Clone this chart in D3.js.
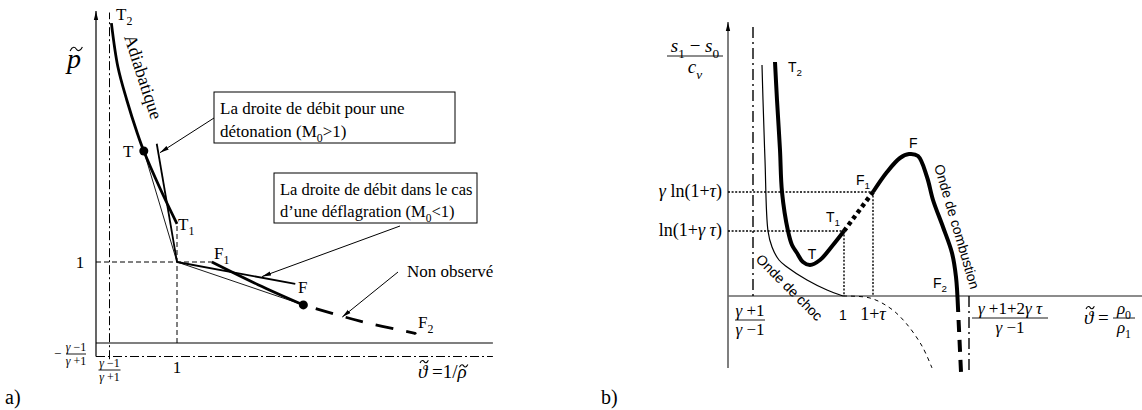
<!DOCTYPE html>
<html lang="fr">
<head>
<meta charset="UTF-8">
<title>Adiabatique</title>
<style>
  body { margin: 0; background: #fff; }
  svg { display: block; }
  .serif { font-family: "Liberation Serif", "Times New Roman", serif; }
  .sans { font-family: "Liberation Sans", Arial, sans-serif; }
</style>
</head>
<body>
<script src="https://cdn.jsdelivr.net/npm/d3@7/dist/d3.min.js"></script>
<script>
    // ---------- a) plan (v~, p~), gamma = 1.4 ----------
    var gFrac = 1 / 6;                       // (gamma-1)/(gamma+1)
    var initState = [1, 1];
    var adiabatDetonation = [[0.19, 3.95], [0.27, 3.41], [0.38, 3.0], [0.51, 2.59], [0.59, 2.37], [0.79, 1.91], [1.0, 1.47]];
    var adiabatDeflagration = [[1.43, 1.0], [2.0, 0.72], [2.56, 0.47]];
    var adiabatNonObserve = [[2.56, 0.47], [3.26, 0.27], [3.94, 0.12]];
    var pointT = [0.59, 2.37];
    var pointF = [2.56, 0.47];
    var rayleighDetonationEnd = [0.75, 2.46];
    var rayleighDeflagrationEnd = [2.46, 0.73];

    // ---------- b) plan (v~, (s1-s0)/cv) ----------
    var asymShock = 6.25, asymComb = 60.25;          // (g+1)/(g-1) , (g+1+2g tau)/(g-1)
    var vOne = 29, vOneTau = 36.25;                   // 1 , 1+tau
    var sLn1gt = 16.25, sGln1t = 26;                  // ln(1+g tau) , g ln(1+tau)
    var shockCurve = [[8.5, 57.75], [8.75, 49], [9.25, 34], [10, 16.25], [11, 12.25], [12.75, 9], [14.75, 7.25], [19.75, 4], [24.75, 1.5], [28.75, 0]];
    var shockCurveNeg = [[28.75, 0], [35.5, -0.5], [40.5, -3], [44.25, -6.5], [48.5, -12.5], [51, -18]];
    var combT = [[11.75, 58.5], [12.25, 49], [13, 36.5], [13.5, 26], [15, 16.25], [16, 12.75], [17.25, 10.75], [18.75, 8.5], [20.5, 7.75], [23, 9], [26.25, 12.75], [29, 16.25]];
    var combGap = [[29, 16.25], [36.25, 26]];
    var combF = [[36.25, 26], [39.75, 31], [43, 34.5], [45.25, 35.5], [47.5, 35], [49.75, 29.75], [51.25, 24], [53.75, 17.25], [56, 10.75], [57, 4.75], [57.5, -3]];
    var combF2 = [[57.5, -3], [58.25, -19]];

    var svg = d3.select('body').append('svg')
        .attr('width', 1142)
        .attr('height', 410);

    var defs = svg.append('defs');
    defs.append('marker')
        .attr('id', 'arrow')
        .attr('viewBox', '0 0 10 6')
        .attr('refX', 10).attr('refY', 3)
        .attr('markerWidth', 9).attr('markerHeight', 5.4)
        .attr('markerUnits', 'userSpaceOnUse')
        .attr('orient', 'auto')
      .append('path')
        .attr('d', 'M0,0.6 L10,3 L0,5.4 Z');

    // text with italic / subscript pieces
    function rich(g, x, y, parts, size, cls, anchor) {
        var t = g.append('text')
            .attr('x', x).attr('y', y)
            .attr('class', cls)
            .attr('font-size', size)
            .attr('text-anchor', anchor || 'start');
        var wasSub = false;
        parts.forEach(function(p) {
            if (typeof p === 'string') p = {t: p};
            var s = t.append('tspan').text(p.t);
            if (p.i) s.attr('font-style', 'italic');
            if (p.sub) {
                s.attr('font-size', size * 0.7);
                if (!wasSub) s.attr('dy', size * 0.3);
            } else if (wasSub) {
                s.attr('dy', -size * 0.3);
            }
            wasSub = !!p.sub;
        });
        return t;
    }

    // small tilde stroke over one character of a text
    function tilde(g, t, idx, size, lift) {
        var b = t.node().getExtentOfChar(idx);
        var base = +t.attr('y');
        var cx = b.x + b.width / 2 + size * 0.08,
            cy = base - lift * size,
            w = size * 0.22, h = size * 0.07;
        g.append('path')
            .attr('d', 'M' + (cx - w) + ',' + (cy + h) +
                ' C' + (cx - w * 0.6) + ',' + (cy - h * 1.6) + ' ' + (cx - w * 0.2) + ',' + (cy - h) + ' ' + cx + ',' + cy +
                ' S' + (cx + w * 0.6) + ',' + (cy + h * 1.6) + ' ' + (cx + w) + ',' + (cy - h))
            .attr('fill', 'none').attr('stroke', '#000').attr('stroke-width', 1.1);
    }

    function frac(g, cx, yBar, num, den, size, half, cls) {
        rich(g, cx, yBar - size * 0.22, num, size, cls, 'middle');
        g.append('line')
            .attr('x1', cx - half).attr('x2', cx + half)
            .attr('y1', yBar).attr('y2', yBar)
            .attr('stroke', '#000').attr('stroke-width', 0.9);
        rich(g, cx, yBar + size * 0.9, den, size, cls, 'middle');
    }

    // =================== panel a) ===================
    var xa = d3.scaleLinear().domain([0, 1]).range([96, 177]);
    var ya = d3.scaleLinear().domain([0, 1]).range([343, 262]);
    var lineA = d3.line()
        .x(function(d) { return xa(d[0]); })
        .y(function(d) { return ya(d[1]); });
    var curveA = d3.line()
        .x(function(d) { return xa(d[0]); })
        .y(function(d) { return ya(d[1]); })
        .curve(d3.curveCatmullRom);

    var ga = svg.append('g');

    // axes
    ga.append('line')
        .attr('x1', xa(0)).attr('x2', xa(0))
        .attr('y1', ya(-gFrac)).attr('y2', ya(4.1))
        .attr('stroke', '#000').attr('stroke-width', 1.2)
        .attr('marker-end', 'url(#arrow)');
    ga.append('line')
        .attr('x1', xa(0)).attr('x2', xa(4.9))
        .attr('y1', ya(0)).attr('y2', ya(0))
        .attr('stroke', '#000').attr('stroke-width', 1.2);

    // asymptotes (dash-dot)
    ga.append('line')
        .attr('x1', xa(gFrac)).attr('x2', xa(gFrac))
        .attr('y1', ya(-0.2)).attr('y2', ya(4.08))
        .attr('stroke', '#000').attr('stroke-width', 1)
        .attr('stroke-dasharray', '9,3,2,3');
    ga.append('line')
        .attr('x1', xa(0)).attr('x2', xa(4.9))
        .attr('y1', ya(-gFrac)).attr('y2', ya(-gFrac))
        .attr('stroke', '#000').attr('stroke-width', 1)
        .attr('stroke-dasharray', '9,3,2,3');

    // guides through initial state
    ga.append('path')
        .attr('d', lineA([[0, initState[1]], [adiabatDeflagration[0][0], initState[1]]]))
        .attr('fill', 'none').attr('stroke', '#000').attr('stroke-width', 1)
        .attr('stroke-dasharray', '5,3');
    ga.append('path')
        .attr('d', lineA([[initState[0], 0], [initState[0], adiabatDetonation[adiabatDetonation.length - 1][1]]]))
        .attr('fill', 'none').attr('stroke', '#000').attr('stroke-width', 1)
        .attr('stroke-dasharray', '5,3');

    // Rayleigh lines
    ga.append('path').attr('d', lineA([initState, pointT]))
        .attr('fill', 'none').attr('stroke', '#000').attr('stroke-width', 0.9);
    ga.append('path').attr('d', lineA([initState, pointF]))
        .attr('fill', 'none').attr('stroke', '#000').attr('stroke-width', 0.9);
    ga.append('path').attr('d', lineA([initState, rayleighDetonationEnd]))
        .attr('fill', 'none').attr('stroke', '#000').attr('stroke-width', 1.8);
    ga.append('path').attr('d', lineA([initState, rayleighDeflagrationEnd]))
        .attr('fill', 'none').attr('stroke', '#000').attr('stroke-width', 1.8);

    // adiabat
    ga.append('path').attr('d', curveA(adiabatDetonation))
        .attr('fill', 'none').attr('stroke', '#000').attr('stroke-width', 2.8);
    ga.append('path').attr('d', curveA(adiabatDeflagration))
        .attr('fill', 'none').attr('stroke', '#000').attr('stroke-width', 2.8);
    ga.append('path').attr('d', curveA(adiabatNonObserve))
        .attr('fill', 'none').attr('stroke', '#000').attr('stroke-width', 2.8)
        .attr('stroke-dasharray', '18,13').attr('stroke-dashoffset', 18);
    ga.append('circle')
        .attr('cx', xa(adiabatNonObserve[2][0])).attr('cy', ya(adiabatNonObserve[2][1])).attr('r', 1.4);

    ga.selectAll('circle.pt')
        .data([pointT, pointF])
      .enter().append('circle')
        .attr('class', 'pt')
        .attr('cx', function(d) { return xa(d[0]); })
        .attr('cy', function(d) { return ya(d[1]); })
        .attr('r', 4.5);

    // labels a)
    rich(ga, 116, 20, ['T', {t: '2', sub: true}], 17, 'serif');
    rich(ga, 123, 157, ['T'], 17, 'serif');
    rich(ga, 178, 230, ['T', {t: '1', sub: true}], 17, 'serif');
    rich(ga, 214, 259, ['F', {t: '1', sub: true}], 17, 'serif');
    rich(ga, 298, 293, ['F'], 17, 'serif');
    rich(ga, 418, 328, ['F', {t: '2', sub: true}], 17, 'serif');
    ga.append('text').attr('class', 'serif').attr('font-size', 18)
        .attr('transform', 'translate(124,37) rotate(72)')
        .text('Adiabatique');
    var pLab = rich(ga, 67, 68, [{t: 'p', i: true}], 28, 'serif');
    tilde(ga, pLab, 0, 28, 0.68);
    rich(ga, 80, 268, ['1'], 17, 'serif', 'middle');
    rich(ga, xa(1), 373, ['1'], 17, 'serif', 'middle');
    ga.append('text').attr('class', 'serif').attr('font-size', 13)
        .attr('x', 54).attr('y', 358).text('\u2212');
    frac(ga, 76, 354, [{t: '\u03b3', i: true}, ' \u22121'], [{t: '\u03b3', i: true}, ' +1'], 12, 10, 'serif');
    frac(ga, xa(gFrac), 370, [{t: '\u03b3', i: true}, ' \u22121'], [{t: '\u03b3', i: true}, ' +1'], 12, 11, 'serif');
    var vLabA = rich(ga, 418, 378, [{t: '\u03d1', i: true}, ' =1/', {t: '\u03c1', i: true}], 19, 'serif');
    tilde(ga, vLabA, 0, 19, 0.86);
    tilde(ga, vLabA, 5, 19, 0.64);
    rich(ga, 5, 404, ['a)'], 20, 'serif');

    // boxes
    ga.append('rect').attr('x', 214).attr('y', 92).attr('width', 241).attr('height', 51)
        .attr('fill', '#fff').attr('stroke', '#000').attr('stroke-width', 1);
    rich(ga, 220, 114, ['La droite de d\u00e9bit pour une'], 17, 'serif');
    rich(ga, 220, 137, ['d\u00e9tonation (M', {t: '0', sub: true}, '>1)'], 17, 'serif');
    ga.append('rect').attr('x', 274).attr('y', 173).attr('width', 203).attr('height', 50)
        .attr('fill', '#fff').attr('stroke', '#000').attr('stroke-width', 1);
    rich(ga, 280, 195, ['La droite de d\u00e9bit dans le cas'], 16.5, 'serif');
    rich(ga, 280, 217, ['d\u2019une d\u00e9flagration (M', {t: '0', sub: true}, '<1)'], 16.5, 'serif');
    rich(ga, 407, 277, ['Non observ\u00e9'], 17, 'serif');

    // pointers
    ga.append('line').attr('x1', 214).attr('y1', 118)
        .attr('x2', xa(0.79)).attr('y2', ya(2.35))
        .attr('stroke', '#000').attr('stroke-width', 1).attr('marker-end', 'url(#arrow)');
    ga.append('line').attr('x1', 400).attr('y1', 226)
        .attr('x2', xa(2.05)).attr('y2', ya(0.82))
        .attr('stroke', '#000').attr('stroke-width', 1).attr('marker-end', 'url(#arrow)');
    ga.append('line').attr('x1', 398).attr('y1', 272)
        .attr('x2', xa(3.04)).attr('y2', ya(0.32))
        .attr('stroke', '#000').attr('stroke-width', 1).attr('marker-end', 'url(#arrow)');

    // =================== panel b) ===================
    var xb = d3.scaleLinear().domain([0, 100]).range([728, 1128]);
    var yb = d3.scaleLinear().domain([0, 70]).range([296, 16]);
    var lineB = d3.line()
        .x(function(d) { return xb(d[0]); })
        .y(function(d) { return yb(d[1]); });
    var curveB = d3.line()
        .x(function(d) { return xb(d[0]); })
        .y(function(d) { return yb(d[1]); })
        .curve(d3.curveCatmullRom);

    var gb = svg.append('g');

    // axes
    gb.append('line')
        .attr('x1', xb(0)).attr('x2', xb(0))
        .attr('y1', yb(-18)).attr('y2', yb(68.5))
        .attr('stroke', '#555').attr('stroke-width', 1.5)
        .attr('marker-end', 'url(#arrow)');
    gb.append('line')
        .attr('x1', xb(0)).attr('x2', xb(103.5))
        .attr('y1', yb(0)).attr('y2', yb(0))
        .attr('stroke', '#666').attr('stroke-width', 1.5);

    // asymptotes
    gb.append('line')
        .attr('x1', xb(asymShock)).attr('x2', xb(asymShock))
        .attr('y1', yb(67.25)).attr('y2', yb(0))
        .attr('stroke', '#000').attr('stroke-width', 1.4)
        .attr('stroke-dasharray', '11,4,2,4');
    gb.append('line')
        .attr('x1', xb(asymComb)).attr('x2', xb(asymComb))
        .attr('y1', yb(0)).attr('y2', yb(-19))
        .attr('stroke', '#000').attr('stroke-width', 1.4)
        .attr('stroke-dasharray', '11,4,2,4');

    // dotted guides
    [[[0, sGln1t], [vOneTau, sGln1t]], [[0, sLn1gt], [vOne, sLn1gt]],
     [[vOne, sLn1gt], [vOne, 0]], [[vOneTau, sGln1t], [vOneTau, 0]]].forEach(function(seg) {
        gb.append('path').attr('d', lineB(seg))
            .attr('fill', 'none').attr('stroke', '#000').attr('stroke-width', 1.4)
            .attr('stroke-dasharray', '2,1.6');
    });

    // shock wave
    gb.append('path').attr('d', curveB(shockCurve))
        .attr('fill', 'none').attr('stroke', '#000').attr('stroke-width', 1.2);
    gb.append('path').attr('d', curveB(shockCurveNeg))
        .attr('fill', 'none').attr('stroke', '#000').attr('stroke-width', 1)
        .attr('stroke-dasharray', '4,4');

    // combustion wave
    gb.append('path').attr('d', curveB(combT))
        .attr('fill', 'none').attr('stroke', '#000').attr('stroke-width', 4);
    gb.append('path').attr('d', lineB(combGap))
        .attr('fill', 'none').attr('stroke', '#000').attr('stroke-width', 4.5)
        .attr('stroke-dasharray', '4,3.5');
    gb.append('path').attr('d', curveB(combF))
        .attr('fill', 'none').attr('stroke', '#000').attr('stroke-width', 4);
    gb.append('path').attr('d', lineB(combF2))
        .attr('fill', 'none').attr('stroke', '#000').attr('stroke-width', 4)
        .attr('stroke-dasharray', '12,8').attr('stroke-dashoffset', -12);

    // labels b)
    rich(gb, 788, 72, ['T', {t: '2', sub: true}], 14, 'sans');
    rich(gb, 812, 259, ['T'], 14, 'sans', 'middle');
    rich(gb, 826, 222, ['T', {t: '1', sub: true}], 14, 'sans');
    rich(gb, 856, 185, ['F', {t: '1', sub: true}], 14, 'sans');
    rich(gb, 909, 148, ['F'], 14, 'sans');
    rich(gb, 933, 288, ['F', {t: '2', sub: true}], 14, 'sans');
    rich(gb, xb(vOne) - 1, 320, ['1'], 14, 'sans', 'middle');
    rich(gb, xb(vOneTau), 320, ['1+', {t: '\u03c4', i: true}], 18, 'serif', 'middle');
    gb.append('text').attr('class', 'sans').attr('font-size', 14)
        .attr('transform', 'translate(755,260) rotate(45)')
        .text('Onde de choc');
    gb.append('text').attr('class', 'sans').attr('font-size', 14)
        .attr('transform', 'translate(934,166) rotate(73.6)')
        .text('Onde de combustion');

    rich(gb, 722, yb(sGln1t) + 5, [{t: '\u03b3', i: true}, ' ln(1+', {t: '\u03c4', i: true}, ')'], 18, 'serif', 'end');
    rich(gb, 722, yb(sLn1gt) + 5, ['ln(1+', {t: '\u03b3 \u03c4', i: true}, ')'], 18, 'serif', 'end');

    frac(gb, 750, 320, [{t: '\u03b3', i: true}, ' +1'], [{t: '\u03b3', i: true}, ' \u22121'], 17, 15, 'serif');
    frac(gb, 1010, 318, [{t: '\u03b3', i: true}, ' +1+2', {t: '\u03b3 \u03c4', i: true}], [{t: '\u03b3', i: true}, ' \u22121'], 17, 38, 'serif');
    var vLabB = rich(gb, 1084, 324, [{t: '\u03d1', i: true}, ' ='], 19, 'serif');
    tilde(gb, vLabB, 0, 19, 0.86);
    frac(gb, 1124, 318, [{t: '\u03c1', i: true}, {t: '0', sub: true}], [{t: '\u03c1', i: true}, {t: '1', sub: true}], 17, 11, 'serif');
    frac(gb, 695, 56, [{t: 's', i: true}, {t: '1', sub: true}, ' \u2212 ', {t: 's', i: true}, {t: '0', sub: true}], [{t: 'c', i: true}, {t: 'v', i: true, sub: true}], 19, 28, 'serif');
    rich(gb, 601, 404, ['b)'], 20, 'serif');
</script>
</body>
</html>
